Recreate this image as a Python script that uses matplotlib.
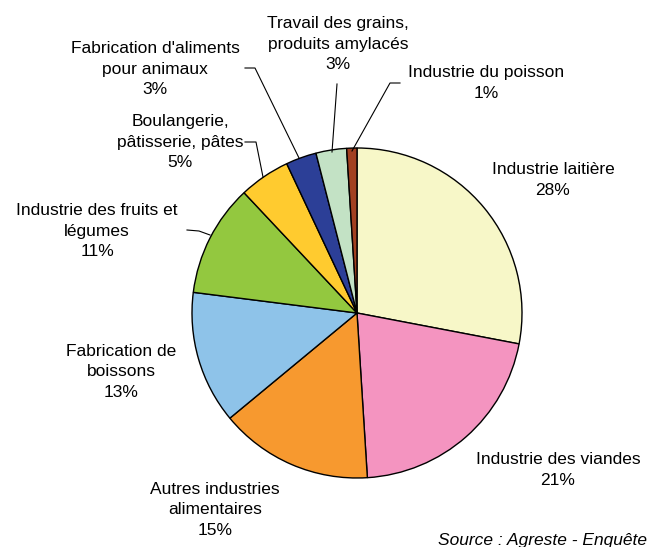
import matplotlib
matplotlib.use("Agg")
import matplotlib.pyplot as plt

plt.rcParams['font.family'] = ['Liberation Sans', 'DejaVu Sans']

SECTEURS = ["Industrie laitière", "Industrie des viandes", "Autres industries\nalimentaires",
            "Fabrication de\nboissons", "Industrie des fruits et\nlégumes",
            "Boulangerie,\npâtisserie, pâtes", "Fabrication d'aliments\npour animaux",
            "Travail des grains,\nproduits amylacés", "Industrie du poisson"]
PARTS = [28, 21, 15, 13, 11, 5, 3, 3, 1]
COULEURS = ["#F7F7C8", "#F494C0", "#F7992F", "#8EC3E9", "#93C83F",
            "#FFCB2F", "#2C3F97", "#C3E2C5", "#A24020"]

# label centres in pixels of the original picture (x, y from top)
LABEL_PX = [(553, 180), (558, 470), (215, 510), (121, 372), (97, 231),
            (180, 142), (155, 69), (338, 44), (486, 83)]
# leader lines, pixels
LEADERS = {
    4: [(187, 230), (199, 231), (210, 235)],
    5: [(245, 142), (256, 142), (263, 177)],
    6: [(245, 68), (255, 68), (299, 158)],
    7: [(337, 84), (332, 152)],
    8: [(400, 83), (390, 83), (352, 151)],
}

W, H = 650, 547
CX, CY, R = 357, 313, 165

fig = plt.figure(figsize=(6.5, 5.47), dpi=100)
ax = fig.add_axes([(CX - R) / W, (H - CY - R) / H, 2 * R / W, 2 * R / H])
ax.pie(PARTS, colors=COULEURS, startangle=90, counterclock=False, radius=1,
       wedgeprops=dict(edgecolor="black", linewidth=1.0))
ax.set_xlim(-1, 1)
ax.set_ylim(-1, 1)
ax.set_aspect("auto")
ax.axis("off")


def to_data(px, py):
    return (px - CX) / R, (CY - py) / R


for i, (nom, p) in enumerate(zip(SECTEURS, PARTS)):
    x, y = to_data(*LABEL_PX[i])
    ax.text(x, y, f"{nom}\n{p}%", ha="center", va="center", fontsize=12.5,
            linespacing=1.42, clip_on=False)

for i, pts in LEADERS.items():
    xs, ys = zip(*[to_data(px, py) for px, py in pts])
    ax.plot(xs, ys, color="black", linewidth=0.8, clip_on=False)

fig.text(438 / W, 1 - 541 / H, "Source : Agreste - Enquête annuelle d'entreprise",
         fontsize=12.5, style="italic", ha="left", va="center")

fig.savefig("out.png", dpi=100)
